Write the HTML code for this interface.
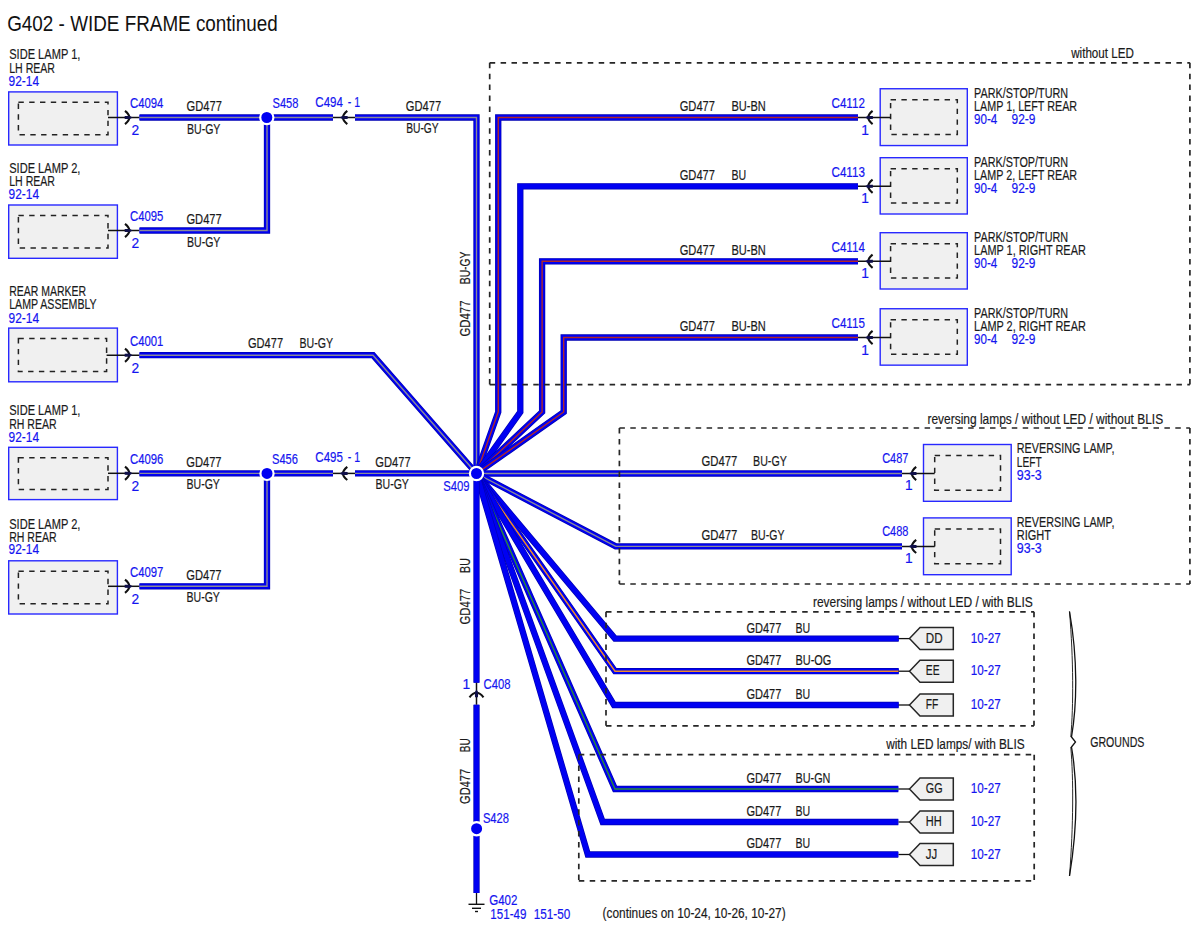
<!DOCTYPE html>
<html><head><meta charset="utf-8"><style>
html,body{margin:0;padding:0;background:#fff;}
svg{display:block;}
text{font-family:"Liberation Sans",sans-serif;}
</style></head><body>
<svg width="1200" height="927" viewBox="0 0 1200 927">
<rect width="1200" height="927" fill="#ffffff"/>
<text x="7.2" y="31.0" font-size="22" fill="#111" stroke="#111" stroke-width="0" textLength="270.6" lengthAdjust="spacingAndGlyphs">G402 - WIDE FRAME continued</text>
<rect x="8.7" y="91.9" width="108.7" height="53.1" fill="#f0f0f0" stroke="#2828ff" stroke-width="1.4"/>
<rect x="18.4" y="102.30000000000001" width="89.6" height="32.5" fill="none" stroke="#222" stroke-width="1.5" stroke-dasharray="5.4 5.4"/>
<text x="9.2" y="59.4" font-size="13.8" fill="#1a1a1a" stroke="#1a1a1a" stroke-width="0.18" textLength="71.2" lengthAdjust="spacingAndGlyphs">SIDE LAMP 1,</text>
<text x="9.2" y="72.5" font-size="13.8" fill="#1a1a1a" stroke="#1a1a1a" stroke-width="0.18" textLength="45.8" lengthAdjust="spacingAndGlyphs">LH REAR</text>
<text x="8.5" y="85.6" font-size="13.8" fill="#1414f0" stroke="#1414f0" stroke-width="0.18" textLength="30.6" lengthAdjust="spacingAndGlyphs">92-14</text>
<path d="M108.0,117.5 H139.5" stroke="#111" stroke-width="1.5" fill="none"/>
<path d="M125.0,110.9 Q133.6,117.5 125.0,124.1" stroke="#111" stroke-width="2.1" fill="none"/>
<path d="M124.7,116.0 L129.9,115.9 L132.7,117.5 L129.9,119.1 L124.7,119.0 Z" fill="#10104a"/>
<text x="130.0" y="107.8" font-size="13.8" fill="#1414f0" stroke="#1414f0" stroke-width="0.18" textLength="33.4" lengthAdjust="spacingAndGlyphs">C4094</text>
<text x="131.5" y="135.0" font-size="13.8" fill="#1414f0" stroke="#1414f0" stroke-width="0.18">2</text>
<rect x="8.7" y="205.0" width="108.7" height="53.3" fill="#f0f0f0" stroke="#2828ff" stroke-width="1.4"/>
<rect x="18.4" y="215.4" width="89.6" height="32.7" fill="none" stroke="#222" stroke-width="1.5" stroke-dasharray="5.4 5.4"/>
<text x="9.2" y="172.9" font-size="13.8" fill="#1a1a1a" stroke="#1a1a1a" stroke-width="0.18" textLength="71.2" lengthAdjust="spacingAndGlyphs">SIDE LAMP 2,</text>
<text x="9.2" y="185.8" font-size="13.8" fill="#1a1a1a" stroke="#1a1a1a" stroke-width="0.18" textLength="45.8" lengthAdjust="spacingAndGlyphs">LH REAR</text>
<text x="8.5" y="199.1" font-size="13.8" fill="#1414f0" stroke="#1414f0" stroke-width="0.18" textLength="30.6" lengthAdjust="spacingAndGlyphs">92-14</text>
<path d="M108.0,230.5 H139.5" stroke="#111" stroke-width="1.5" fill="none"/>
<path d="M125.0,223.9 Q133.6,230.5 125.0,237.1" stroke="#111" stroke-width="2.1" fill="none"/>
<path d="M124.7,229.0 L129.9,228.9 L132.7,230.5 L129.9,232.1 L124.7,232.0 Z" fill="#10104a"/>
<text x="130.0" y="220.8" font-size="13.8" fill="#1414f0" stroke="#1414f0" stroke-width="0.18" textLength="33.4" lengthAdjust="spacingAndGlyphs">C4095</text>
<text x="131.5" y="248.0" font-size="13.8" fill="#1414f0" stroke="#1414f0" stroke-width="0.18">2</text>
<rect x="8.7" y="328.1" width="108.7" height="53.7" fill="#f0f0f0" stroke="#2828ff" stroke-width="1.4"/>
<rect x="18.4" y="338.5" width="88.2" height="33.1" fill="none" stroke="#222" stroke-width="1.5" stroke-dasharray="5.4 5.4"/>
<text x="9.2" y="296.2" font-size="13.8" fill="#1a1a1a" stroke="#1a1a1a" stroke-width="0.18" textLength="76.9" lengthAdjust="spacingAndGlyphs">REAR MARKER</text>
<text x="9.2" y="309.4" font-size="13.8" fill="#1a1a1a" stroke="#1a1a1a" stroke-width="0.18" textLength="87.5" lengthAdjust="spacingAndGlyphs">LAMP ASSEMBLY</text>
<text x="8.5" y="322.5" font-size="13.8" fill="#1414f0" stroke="#1414f0" stroke-width="0.18" textLength="30.6" lengthAdjust="spacingAndGlyphs">92-14</text>
<path d="M106.6,355.2 H139.5" stroke="#111" stroke-width="1.5" fill="none"/>
<path d="M125.0,348.6 Q133.6,355.2 125.0,361.8" stroke="#111" stroke-width="2.1" fill="none"/>
<path d="M124.7,353.7 L129.9,353.6 L132.7,355.2 L129.9,356.8 L124.7,356.7 Z" fill="#10104a"/>
<text x="130.0" y="345.5" font-size="13.8" fill="#1414f0" stroke="#1414f0" stroke-width="0.18" textLength="33.4" lengthAdjust="spacingAndGlyphs">C4001</text>
<text x="131.5" y="372.7" font-size="13.8" fill="#1414f0" stroke="#1414f0" stroke-width="0.18">2</text>
<rect x="8.7" y="447.3" width="108.7" height="52.3" fill="#f0f0f0" stroke="#2828ff" stroke-width="1.4"/>
<rect x="18.4" y="457.7" width="89.6" height="31.7" fill="none" stroke="#222" stroke-width="1.5" stroke-dasharray="5.4 5.4"/>
<text x="9.2" y="415.4" font-size="13.8" fill="#1a1a1a" stroke="#1a1a1a" stroke-width="0.18" textLength="71.2" lengthAdjust="spacingAndGlyphs">SIDE LAMP 1,</text>
<text x="9.2" y="428.5" font-size="13.8" fill="#1a1a1a" stroke="#1a1a1a" stroke-width="0.18" textLength="47.4" lengthAdjust="spacingAndGlyphs">RH REAR</text>
<text x="8.5" y="441.5" font-size="13.8" fill="#1414f0" stroke="#1414f0" stroke-width="0.18" textLength="30.6" lengthAdjust="spacingAndGlyphs">92-14</text>
<path d="M108.0,473.3 H139.5" stroke="#111" stroke-width="1.5" fill="none"/>
<path d="M125.0,466.7 Q133.6,473.3 125.0,479.9" stroke="#111" stroke-width="2.1" fill="none"/>
<path d="M124.7,471.8 L129.9,471.7 L132.7,473.3 L129.9,474.9 L124.7,474.8 Z" fill="#10104a"/>
<text x="130.0" y="463.6" font-size="13.8" fill="#1414f0" stroke="#1414f0" stroke-width="0.18" textLength="33.4" lengthAdjust="spacingAndGlyphs">C4096</text>
<text x="131.5" y="490.8" font-size="13.8" fill="#1414f0" stroke="#1414f0" stroke-width="0.18">2</text>
<rect x="8.7" y="560.8" width="108.7" height="53.2" fill="#f0f0f0" stroke="#2828ff" stroke-width="1.4"/>
<rect x="18.4" y="571.1999999999999" width="89.6" height="32.6" fill="none" stroke="#222" stroke-width="1.5" stroke-dasharray="5.4 5.4"/>
<text x="9.2" y="528.5" font-size="13.8" fill="#1a1a1a" stroke="#1a1a1a" stroke-width="0.18" textLength="71.2" lengthAdjust="spacingAndGlyphs">SIDE LAMP 2,</text>
<text x="9.2" y="541.5" font-size="13.8" fill="#1a1a1a" stroke="#1a1a1a" stroke-width="0.18" textLength="47.4" lengthAdjust="spacingAndGlyphs">RH REAR</text>
<text x="8.5" y="554.4" font-size="13.8" fill="#1414f0" stroke="#1414f0" stroke-width="0.18" textLength="30.6" lengthAdjust="spacingAndGlyphs">92-14</text>
<path d="M108.0,586.3 H139.5" stroke="#111" stroke-width="1.5" fill="none"/>
<path d="M125.0,579.7 Q133.6,586.3 125.0,592.9" stroke="#111" stroke-width="2.1" fill="none"/>
<path d="M124.7,584.8 L129.9,584.7 L132.7,586.3 L129.9,587.9 L124.7,587.8 Z" fill="#10104a"/>
<text x="130.0" y="576.6" font-size="13.8" fill="#1414f0" stroke="#1414f0" stroke-width="0.18" textLength="33.4" lengthAdjust="spacingAndGlyphs">C4097</text>
<text x="131.5" y="603.8" font-size="13.8" fill="#1414f0" stroke="#1414f0" stroke-width="0.18">2</text>
<rect x="880.2" y="88.75" width="87.1" height="56.8" fill="#f0f0f0" stroke="#2828ff" stroke-width="1.4"/>
<rect x="890.6" y="99.75" width="66.7" height="34.8" fill="none" stroke="#222" stroke-width="1.5" stroke-dasharray="5.4 5.4"/>
<text x="974.1" y="97.8" font-size="13.8" fill="#1a1a1a" stroke="#1a1a1a" stroke-width="0.18" textLength="94.0" lengthAdjust="spacingAndGlyphs">PARK/STOP/TURN</text>
<text x="974.1" y="110.8" font-size="13.8" fill="#1a1a1a" stroke="#1a1a1a" stroke-width="0.18" textLength="103.0" lengthAdjust="spacingAndGlyphs">LAMP 1, LEFT REAR</text>
<text x="974.1" y="123.8" font-size="13.8" fill="#1414f0" stroke="#1414f0" stroke-width="0.18" textLength="23.2" lengthAdjust="spacingAndGlyphs">90-4</text>
<text x="1011.5" y="123.8" font-size="13.8" fill="#1414f0" stroke="#1414f0" stroke-width="0.18" textLength="23.9" lengthAdjust="spacingAndGlyphs">92-9</text>
<path d="M858.0,117.5 H890.6" stroke="#111" stroke-width="1.5" fill="none"/>
<path d="M872.6,110.9 Q864.0,117.5 872.6,124.1" stroke="#111" stroke-width="2.1" fill="none"/>
<path d="M872.9,116.0 L867.7,115.9 L864.9,117.5 L867.7,119.1 L872.9,119.0 Z" fill="#10104a"/>
<text x="831.5" y="107.9" font-size="13.8" fill="#1414f0" stroke="#1414f0" stroke-width="0.18" textLength="33.4" lengthAdjust="spacingAndGlyphs">C4112</text>
<text x="861.2" y="134.5" font-size="13.8" fill="#1414f0" stroke="#1414f0" stroke-width="0.18">1</text>
<rect x="880.2" y="157.7" width="87.1" height="56.3" fill="#f0f0f0" stroke="#2828ff" stroke-width="1.4"/>
<rect x="890.6" y="168.7" width="66.7" height="34.3" fill="none" stroke="#222" stroke-width="1.5" stroke-dasharray="5.4 5.4"/>
<text x="974.1" y="166.7" font-size="13.8" fill="#1a1a1a" stroke="#1a1a1a" stroke-width="0.18" textLength="94.0" lengthAdjust="spacingAndGlyphs">PARK/STOP/TURN</text>
<text x="974.1" y="179.7" font-size="13.8" fill="#1a1a1a" stroke="#1a1a1a" stroke-width="0.18" textLength="103.0" lengthAdjust="spacingAndGlyphs">LAMP 2, LEFT REAR</text>
<text x="974.1" y="192.7" font-size="13.8" fill="#1414f0" stroke="#1414f0" stroke-width="0.18" textLength="23.2" lengthAdjust="spacingAndGlyphs">90-4</text>
<text x="1011.5" y="192.7" font-size="13.8" fill="#1414f0" stroke="#1414f0" stroke-width="0.18" textLength="23.9" lengthAdjust="spacingAndGlyphs">92-9</text>
<path d="M858.0,186.3 H890.6" stroke="#111" stroke-width="1.5" fill="none"/>
<path d="M872.6,179.7 Q864.0,186.3 872.6,192.9" stroke="#111" stroke-width="2.1" fill="none"/>
<path d="M872.9,184.8 L867.7,184.7 L864.9,186.3 L867.7,187.9 L872.9,187.8 Z" fill="#10104a"/>
<text x="831.5" y="176.7" font-size="13.8" fill="#1414f0" stroke="#1414f0" stroke-width="0.18" textLength="33.4" lengthAdjust="spacingAndGlyphs">C4113</text>
<text x="861.2" y="203.3" font-size="13.8" fill="#1414f0" stroke="#1414f0" stroke-width="0.18">1</text>
<rect x="880.2" y="232.7" width="87.1" height="56.3" fill="#f0f0f0" stroke="#2828ff" stroke-width="1.4"/>
<rect x="890.6" y="243.7" width="66.7" height="34.3" fill="none" stroke="#222" stroke-width="1.5" stroke-dasharray="5.4 5.4"/>
<text x="974.1" y="241.7" font-size="13.8" fill="#1a1a1a" stroke="#1a1a1a" stroke-width="0.18" textLength="94.0" lengthAdjust="spacingAndGlyphs">PARK/STOP/TURN</text>
<text x="974.1" y="254.7" font-size="13.8" fill="#1a1a1a" stroke="#1a1a1a" stroke-width="0.18" textLength="111.7" lengthAdjust="spacingAndGlyphs">LAMP 1, RIGHT REAR</text>
<text x="974.1" y="267.7" font-size="13.8" fill="#1414f0" stroke="#1414f0" stroke-width="0.18" textLength="23.2" lengthAdjust="spacingAndGlyphs">90-4</text>
<text x="1011.5" y="267.7" font-size="13.8" fill="#1414f0" stroke="#1414f0" stroke-width="0.18" textLength="23.9" lengthAdjust="spacingAndGlyphs">92-9</text>
<path d="M858.0,261.3 H890.6" stroke="#111" stroke-width="1.5" fill="none"/>
<path d="M872.6,254.7 Q864.0,261.3 872.6,267.9" stroke="#111" stroke-width="2.1" fill="none"/>
<path d="M872.9,259.8 L867.7,259.7 L864.9,261.3 L867.7,262.9 L872.9,262.8 Z" fill="#10104a"/>
<text x="831.5" y="251.7" font-size="13.8" fill="#1414f0" stroke="#1414f0" stroke-width="0.18" textLength="33.4" lengthAdjust="spacingAndGlyphs">C4114</text>
<text x="861.2" y="278.3" font-size="13.8" fill="#1414f0" stroke="#1414f0" stroke-width="0.18">1</text>
<rect x="880.2" y="308.75" width="87.1" height="56.4" fill="#f0f0f0" stroke="#2828ff" stroke-width="1.4"/>
<rect x="890.6" y="319.75" width="66.7" height="34.4" fill="none" stroke="#222" stroke-width="1.5" stroke-dasharray="5.4 5.4"/>
<text x="974.1" y="317.8" font-size="13.8" fill="#1a1a1a" stroke="#1a1a1a" stroke-width="0.18" textLength="94.0" lengthAdjust="spacingAndGlyphs">PARK/STOP/TURN</text>
<text x="974.1" y="330.8" font-size="13.8" fill="#1a1a1a" stroke="#1a1a1a" stroke-width="0.18" textLength="111.7" lengthAdjust="spacingAndGlyphs">LAMP 2, RIGHT REAR</text>
<text x="974.1" y="343.8" font-size="13.8" fill="#1414f0" stroke="#1414f0" stroke-width="0.18" textLength="23.2" lengthAdjust="spacingAndGlyphs">90-4</text>
<text x="1011.5" y="343.8" font-size="13.8" fill="#1414f0" stroke="#1414f0" stroke-width="0.18" textLength="23.9" lengthAdjust="spacingAndGlyphs">92-9</text>
<path d="M858.0,337.5 H890.6" stroke="#111" stroke-width="1.5" fill="none"/>
<path d="M872.6,330.9 Q864.0,337.5 872.6,344.1" stroke="#111" stroke-width="2.1" fill="none"/>
<path d="M872.9,336.0 L867.7,335.9 L864.9,337.5 L867.7,339.1 L872.9,339.0 Z" fill="#10104a"/>
<text x="831.5" y="327.9" font-size="13.8" fill="#1414f0" stroke="#1414f0" stroke-width="0.18" textLength="33.4" lengthAdjust="spacingAndGlyphs">C4115</text>
<text x="861.2" y="354.5" font-size="13.8" fill="#1414f0" stroke="#1414f0" stroke-width="0.18">1</text>
<rect x="923.5" y="444.5" width="87.7" height="56.8" fill="#f0f0f0" stroke="#2828ff" stroke-width="1.4"/>
<rect x="934.7" y="455.5" width="65.8" height="34.8" fill="none" stroke="#222" stroke-width="1.5" stroke-dasharray="5.4 5.4"/>
<text x="1016.8" y="453.3" font-size="13.8" fill="#1a1a1a" stroke="#1a1a1a" stroke-width="0.18" textLength="97.6" lengthAdjust="spacingAndGlyphs">REVERSING LAMP,</text>
<text x="1016.8" y="466.7" font-size="13.8" fill="#1a1a1a" stroke="#1a1a1a" stroke-width="0.18" textLength="24.9" lengthAdjust="spacingAndGlyphs">LEFT</text>
<text x="1016.8" y="479.5" font-size="13.8" fill="#1414f0" stroke="#1414f0" stroke-width="0.18" textLength="24.9" lengthAdjust="spacingAndGlyphs">93-3</text>
<path d="M902.0,473.5 H934.7" stroke="#111" stroke-width="1.5" fill="none"/>
<path d="M916.2,466.9 Q907.6,473.5 916.2,480.1" stroke="#111" stroke-width="2.1" fill="none"/>
<path d="M916.5,472.0 L911.3,471.9 L908.5,473.5 L911.3,475.1 L916.5,475.0 Z" fill="#10104a"/>
<text x="882.2" y="463.2" font-size="13.8" fill="#1414f0" stroke="#1414f0" stroke-width="0.18" textLength="26.2" lengthAdjust="spacingAndGlyphs">C487</text>
<text x="905.1" y="490.2" font-size="13.8" fill="#1414f0" stroke="#1414f0" stroke-width="0.18">1</text>
<rect x="923.5" y="517.9" width="87.7" height="56.8" fill="#f0f0f0" stroke="#2828ff" stroke-width="1.4"/>
<rect x="934.7" y="528.9" width="65.8" height="34.8" fill="none" stroke="#222" stroke-width="1.5" stroke-dasharray="5.4 5.4"/>
<text x="1016.8" y="526.7" font-size="13.8" fill="#1a1a1a" stroke="#1a1a1a" stroke-width="0.18" textLength="97.6" lengthAdjust="spacingAndGlyphs">REVERSING LAMP,</text>
<text x="1016.8" y="540.1" font-size="13.8" fill="#1a1a1a" stroke="#1a1a1a" stroke-width="0.18" textLength="34.2" lengthAdjust="spacingAndGlyphs">RIGHT</text>
<text x="1016.8" y="552.9" font-size="13.8" fill="#1414f0" stroke="#1414f0" stroke-width="0.18" textLength="24.9" lengthAdjust="spacingAndGlyphs">93-3</text>
<path d="M902.0,546.4 H934.7" stroke="#111" stroke-width="1.5" fill="none"/>
<path d="M916.2,539.8 Q907.6,546.4 916.2,553.0" stroke="#111" stroke-width="2.1" fill="none"/>
<path d="M916.5,544.9 L911.3,544.8 L908.5,546.4 L911.3,548.0 L916.5,547.9 Z" fill="#10104a"/>
<text x="882.2" y="536.1" font-size="13.8" fill="#1414f0" stroke="#1414f0" stroke-width="0.18" textLength="26.2" lengthAdjust="spacingAndGlyphs">C488</text>
<text x="905.1" y="563.1" font-size="13.8" fill="#1414f0" stroke="#1414f0" stroke-width="0.18">1</text>
<path d="M139.5,117.5 H333" stroke="#0000b4" stroke-width="6.3" fill="none" stroke-linejoin="miter" stroke-linecap="butt"/>
<path d="M139.5,117.5 H333" stroke="#0000f2" stroke-width="4.9" fill="none" stroke-linejoin="miter" stroke-linecap="butt"/>
<path d="M139.5,117.5 H333" stroke="#8a8a96" stroke-width="1.4" fill="none" stroke-linejoin="miter" stroke-linecap="butt"/>
<path d="M355,117.5 H476.5 V473.5" stroke="#0000b4" stroke-width="6.3" fill="none" stroke-linejoin="miter" stroke-linecap="butt"/>
<path d="M355,117.5 H476.5 V473.5" stroke="#0000f2" stroke-width="4.9" fill="none" stroke-linejoin="miter" stroke-linecap="butt"/>
<path d="M355,117.5 H476.5 V473.5" stroke="#8a8a96" stroke-width="1.4" fill="none" stroke-linejoin="miter" stroke-linecap="butt"/>
<path d="M139.5,230.5 H267 V117.5" stroke="#0000b4" stroke-width="6.3" fill="none" stroke-linejoin="miter" stroke-linecap="butt"/>
<path d="M139.5,230.5 H267 V117.5" stroke="#0000f2" stroke-width="4.9" fill="none" stroke-linejoin="miter" stroke-linecap="butt"/>
<path d="M139.5,230.5 H267 V117.5" stroke="#8a8a96" stroke-width="1.4" fill="none" stroke-linejoin="miter" stroke-linecap="butt"/>
<path d="M139.5,355.2 H373 L476.5,473.5" stroke="#0000b4" stroke-width="6.3" fill="none" stroke-linejoin="miter" stroke-linecap="butt"/>
<path d="M139.5,355.2 H373 L476.5,473.5" stroke="#0000f2" stroke-width="4.9" fill="none" stroke-linejoin="miter" stroke-linecap="butt"/>
<path d="M139.5,355.2 H373 L476.5,473.5" stroke="#8a8a96" stroke-width="1.4" fill="none" stroke-linejoin="miter" stroke-linecap="butt"/>
<path d="M139.5,473.4 H333" stroke="#0000b4" stroke-width="6.3" fill="none" stroke-linejoin="miter" stroke-linecap="butt"/>
<path d="M139.5,473.4 H333" stroke="#0000f2" stroke-width="4.9" fill="none" stroke-linejoin="miter" stroke-linecap="butt"/>
<path d="M139.5,473.4 H333" stroke="#8a8a96" stroke-width="1.4" fill="none" stroke-linejoin="miter" stroke-linecap="butt"/>
<path d="M355,473.4 H476.5" stroke="#0000b4" stroke-width="6.3" fill="none" stroke-linejoin="miter" stroke-linecap="butt"/>
<path d="M355,473.4 H476.5" stroke="#0000f2" stroke-width="4.9" fill="none" stroke-linejoin="miter" stroke-linecap="butt"/>
<path d="M355,473.4 H476.5" stroke="#8a8a96" stroke-width="1.4" fill="none" stroke-linejoin="miter" stroke-linecap="butt"/>
<path d="M139.5,586.3 H267 V473.4" stroke="#0000b4" stroke-width="6.3" fill="none" stroke-linejoin="miter" stroke-linecap="butt"/>
<path d="M139.5,586.3 H267 V473.4" stroke="#0000f2" stroke-width="4.9" fill="none" stroke-linejoin="miter" stroke-linecap="butt"/>
<path d="M139.5,586.3 H267 V473.4" stroke="#8a8a96" stroke-width="1.4" fill="none" stroke-linejoin="miter" stroke-linecap="butt"/>
<path d="M858,117.5 H498.25 V412 L476.5,473.5" stroke="#0000b4" stroke-width="6.3" fill="none" stroke-linejoin="miter" stroke-linecap="butt"/>
<path d="M858,117.5 H498.25 V412 L476.5,473.5" stroke="#0000f2" stroke-width="4.9" fill="none" stroke-linejoin="miter" stroke-linecap="butt"/>
<path d="M858,117.5 H498.25 V412 L476.5,473.5" stroke="#b02828" stroke-width="1.4" fill="none" stroke-linejoin="miter" stroke-linecap="butt"/>
<path d="M858,186.3 H520.3 V412 L476.5,473.5" stroke="#0000b4" stroke-width="6.3" fill="none" stroke-linejoin="miter" stroke-linecap="butt"/>
<path d="M858,186.3 H520.3 V412 L476.5,473.5" stroke="#0000f2" stroke-width="4.9" fill="none" stroke-linejoin="miter" stroke-linecap="butt"/>
<path d="M858,261.3 H542.1 V412 L476.5,473.5" stroke="#0000b4" stroke-width="6.3" fill="none" stroke-linejoin="miter" stroke-linecap="butt"/>
<path d="M858,261.3 H542.1 V412 L476.5,473.5" stroke="#0000f2" stroke-width="4.9" fill="none" stroke-linejoin="miter" stroke-linecap="butt"/>
<path d="M858,261.3 H542.1 V412 L476.5,473.5" stroke="#b02828" stroke-width="1.4" fill="none" stroke-linejoin="miter" stroke-linecap="butt"/>
<path d="M858,337.5 H563.7 V412 L476.5,473.5" stroke="#0000b4" stroke-width="6.3" fill="none" stroke-linejoin="miter" stroke-linecap="butt"/>
<path d="M858,337.5 H563.7 V412 L476.5,473.5" stroke="#0000f2" stroke-width="4.9" fill="none" stroke-linejoin="miter" stroke-linecap="butt"/>
<path d="M858,337.5 H563.7 V412 L476.5,473.5" stroke="#b02828" stroke-width="1.4" fill="none" stroke-linejoin="miter" stroke-linecap="butt"/>
<path d="M476.5,473.5 H902" stroke="#0000b4" stroke-width="6.3" fill="none" stroke-linejoin="miter" stroke-linecap="butt"/>
<path d="M476.5,473.5 H902" stroke="#0000f2" stroke-width="4.9" fill="none" stroke-linejoin="miter" stroke-linecap="butt"/>
<path d="M476.5,473.5 H902" stroke="#8a8a96" stroke-width="1.4" fill="none" stroke-linejoin="miter" stroke-linecap="butt"/>
<path d="M476.5,473.5 L615.7,546.4 H902" stroke="#0000b4" stroke-width="6.3" fill="none" stroke-linejoin="miter" stroke-linecap="butt"/>
<path d="M476.5,473.5 L615.7,546.4 H902" stroke="#0000f2" stroke-width="4.9" fill="none" stroke-linejoin="miter" stroke-linecap="butt"/>
<path d="M476.5,473.5 L615.7,546.4 H902" stroke="#8a8a96" stroke-width="1.4" fill="none" stroke-linejoin="miter" stroke-linecap="butt"/>
<path d="M476.5,473.5 L615,638.6 H898.7" stroke="#0000b4" stroke-width="6.3" fill="none" stroke-linejoin="miter" stroke-linecap="butt"/>
<path d="M476.5,473.5 L615,638.6 H898.7" stroke="#0000f2" stroke-width="4.9" fill="none" stroke-linejoin="miter" stroke-linecap="butt"/>
<path d="M476.5,473.5 L615,671.2 H898.7" stroke="#0000b4" stroke-width="6.3" fill="none" stroke-linejoin="miter" stroke-linecap="butt"/>
<path d="M476.5,473.5 L615,671.2 H898.7" stroke="#0000f2" stroke-width="4.9" fill="none" stroke-linejoin="miter" stroke-linecap="butt"/>
<path d="M476.5,473.5 L615,671.2 H898.7" stroke="#f08c28" stroke-width="1.4" fill="none" stroke-linejoin="miter" stroke-linecap="butt"/>
<path d="M476.5,473.5 L614,705 H898.7" stroke="#0000b4" stroke-width="6.3" fill="none" stroke-linejoin="miter" stroke-linecap="butt"/>
<path d="M476.5,473.5 L614,705 H898.7" stroke="#0000f2" stroke-width="4.9" fill="none" stroke-linejoin="miter" stroke-linecap="butt"/>
<path d="M476.5,473.5 L615,789 H898.3" stroke="#0000b4" stroke-width="6.3" fill="none" stroke-linejoin="miter" stroke-linecap="butt"/>
<path d="M476.5,473.5 L615,789 H898.3" stroke="#0000f2" stroke-width="4.9" fill="none" stroke-linejoin="miter" stroke-linecap="butt"/>
<path d="M476.5,473.5 L615,789 H898.3" stroke="#2a8a3a" stroke-width="1.4" fill="none" stroke-linejoin="miter" stroke-linecap="butt"/>
<path d="M476.5,473.5 L602.7,822 H898.3" stroke="#0000b4" stroke-width="6.3" fill="none" stroke-linejoin="miter" stroke-linecap="butt"/>
<path d="M476.5,473.5 L602.7,822 H898.3" stroke="#0000f2" stroke-width="4.9" fill="none" stroke-linejoin="miter" stroke-linecap="butt"/>
<path d="M476.5,473.5 L587.8,854.5 H898.3" stroke="#0000b4" stroke-width="6.3" fill="none" stroke-linejoin="miter" stroke-linecap="butt"/>
<path d="M476.5,473.5 L587.8,854.5 H898.3" stroke="#0000f2" stroke-width="4.9" fill="none" stroke-linejoin="miter" stroke-linecap="butt"/>
<path d="M476.5,473.5 V682.7" stroke="#0000b4" stroke-width="6.3" fill="none" stroke-linejoin="miter" stroke-linecap="butt"/>
<path d="M476.5,473.5 V682.7" stroke="#0000f2" stroke-width="4.9" fill="none" stroke-linejoin="miter" stroke-linecap="butt"/>
<path d="M476.5,704.7 V893" stroke="#0000b4" stroke-width="6.3" fill="none" stroke-linejoin="miter" stroke-linecap="butt"/>
<path d="M476.5,704.7 V893" stroke="#0000f2" stroke-width="4.9" fill="none" stroke-linejoin="miter" stroke-linecap="butt"/>
<path d="M489.7,62.8 H1189.9" fill="none" stroke="#262626" stroke-width="1.7" stroke-dasharray="5.5 5.4"/>
<path d="M489.7,62.8 V384.7" fill="none" stroke="#262626" stroke-width="1.7" stroke-dasharray="5.5 5.4"/>
<path d="M489.7,384.7 H1189.9" fill="none" stroke="#262626" stroke-width="1.7" stroke-dasharray="5.5 5.4"/>
<path d="M1189.9,62.8 V384.7" fill="none" stroke="#262626" stroke-width="1.7" stroke-dasharray="5.5 5.4"/>
<path d="M619.4,428 H1189.9" fill="none" stroke="#262626" stroke-width="1.7" stroke-dasharray="5.5 5.4"/>
<path d="M619.4,428 V584" fill="none" stroke="#262626" stroke-width="1.7" stroke-dasharray="5.5 5.4"/>
<path d="M619.4,584 H1189.9" fill="none" stroke="#262626" stroke-width="1.7" stroke-dasharray="5.5 5.4"/>
<path d="M1189.9,428 V584" fill="none" stroke="#262626" stroke-width="1.7" stroke-dasharray="5.5 5.4"/>
<path d="M606,611.8 H1034" fill="none" stroke="#262626" stroke-width="1.7" stroke-dasharray="5.5 5.4"/>
<path d="M606,611.8 V725.8" fill="none" stroke="#262626" stroke-width="1.7" stroke-dasharray="5.5 5.4"/>
<path d="M606,725.8 H1034" fill="none" stroke="#262626" stroke-width="1.7" stroke-dasharray="5.5 5.4"/>
<path d="M1034,611.8 V725.8" fill="none" stroke="#262626" stroke-width="1.7" stroke-dasharray="5.5 5.4"/>
<path d="M578.8,754.7 H1034.2" fill="none" stroke="#262626" stroke-width="1.7" stroke-dasharray="5.5 5.4"/>
<path d="M578.8,754.7 V880.8" fill="none" stroke="#262626" stroke-width="1.7" stroke-dasharray="5.5 5.4"/>
<path d="M578.8,880.8 H1034.2" fill="none" stroke="#262626" stroke-width="1.7" stroke-dasharray="5.5 5.4"/>
<path d="M1034.2,754.7 V880.8" fill="none" stroke="#262626" stroke-width="1.7" stroke-dasharray="5.5 5.4"/>
<text x="1071.2" y="58.0" font-size="13.8" fill="#1a1a1a" stroke="#1a1a1a" stroke-width="0.18" textLength="62.7" lengthAdjust="spacingAndGlyphs">without LED</text>
<text x="927.5" y="423.5" font-size="13.8" fill="#1a1a1a" stroke="#1a1a1a" stroke-width="0.18" textLength="235.6" lengthAdjust="spacingAndGlyphs">reversing lamps / without LED / without BLIS</text>
<text x="812.9" y="606.5" font-size="13.8" fill="#1a1a1a" stroke="#1a1a1a" stroke-width="0.18" textLength="219.9" lengthAdjust="spacingAndGlyphs">reversing lamps / without LED / with BLIS</text>
<text x="886.2" y="749.2" font-size="13.8" fill="#1a1a1a" stroke="#1a1a1a" stroke-width="0.18" textLength="138.4" lengthAdjust="spacingAndGlyphs">with LED lamps/ with BLIS</text>
<path d="M333,117.5 H355" stroke="#111" stroke-width="1.5" fill="none"/>
<path d="M347.3,110.9 Q338.7,117.5 347.3,124.1" stroke="#111" stroke-width="2.1" fill="none"/>
<path d="M347.6,116.0 L342.4,115.9 L339.6,117.5 L342.4,119.1 L347.6,119.0 Z" fill="#10104a"/>
<path d="M333,473.4 H355" stroke="#111" stroke-width="1.5" fill="none"/>
<path d="M347.3,466.8 Q338.7,473.4 347.3,480.0" stroke="#111" stroke-width="2.1" fill="none"/>
<path d="M347.6,471.9 L342.4,471.8 L339.6,473.4 L342.4,475.0 L347.6,474.9 Z" fill="#10104a"/>
<path d="M476.5,682.7 V704.7" stroke="#111" stroke-width="1.5" fill="none"/>
<path d="M469.5,697.3 Q476.5,688.1 483.5,697.3" stroke="#111" stroke-width="2.1" fill="none"/>
<path d="M475.0,697.3 L474.9,692.1 L476.5,689.5 L478.1,692.1 L478.0,697.3 Z" fill="#10104a"/>
<circle cx="266.8" cy="117.5" r="6.6" fill="#0000f2" stroke="#ffffff" stroke-width="2.2"/>
<circle cx="267" cy="473.4" r="6.6" fill="#0000f2" stroke="#ffffff" stroke-width="2.2"/>
<circle cx="476.5" cy="473.5" r="6.6" fill="#0000f2" stroke="#ffffff" stroke-width="2.2"/>
<circle cx="476.6" cy="828.7" r="6.6" fill="#0000f2" stroke="#ffffff" stroke-width="2.2"/>
<path d="M476.5,893 V904" stroke="#111" stroke-width="1.3" fill="none"/>
<path d="M468.5,904.3 H484.5" stroke="#111" stroke-width="1.4" fill="none"/>
<path d="M472,908.3 H481" stroke="#111" stroke-width="1.4" fill="none"/>
<path d="M475,911.5 H478" stroke="#111" stroke-width="1.4" fill="none"/>
<text x="186.5" y="111.0" font-size="13.8" fill="#1a1a1a" stroke="#1a1a1a" stroke-width="0.18" textLength="35.4" lengthAdjust="spacingAndGlyphs">GD477</text>
<text x="187.0" y="133.5" font-size="13.8" fill="#1a1a1a" stroke="#1a1a1a" stroke-width="0.18" textLength="33.4" lengthAdjust="spacingAndGlyphs">BU-GY</text>
<text x="186.4" y="224.0" font-size="13.8" fill="#1a1a1a" stroke="#1a1a1a" stroke-width="0.18" textLength="35.4" lengthAdjust="spacingAndGlyphs">GD477</text>
<text x="187.0" y="246.5" font-size="13.8" fill="#1a1a1a" stroke="#1a1a1a" stroke-width="0.18" textLength="33.4" lengthAdjust="spacingAndGlyphs">BU-GY</text>
<text x="186.2" y="466.9" font-size="13.8" fill="#1a1a1a" stroke="#1a1a1a" stroke-width="0.18" textLength="35.4" lengthAdjust="spacingAndGlyphs">GD477</text>
<text x="186.5" y="489.4" font-size="13.8" fill="#1a1a1a" stroke="#1a1a1a" stroke-width="0.18" textLength="33.4" lengthAdjust="spacingAndGlyphs">BU-GY</text>
<text x="186.2" y="579.8" font-size="13.8" fill="#1a1a1a" stroke="#1a1a1a" stroke-width="0.18" textLength="35.4" lengthAdjust="spacingAndGlyphs">GD477</text>
<text x="186.5" y="602.3" font-size="13.8" fill="#1a1a1a" stroke="#1a1a1a" stroke-width="0.18" textLength="33.4" lengthAdjust="spacingAndGlyphs">BU-GY</text>
<text x="247.9" y="348.0" font-size="13.8" fill="#1a1a1a" stroke="#1a1a1a" stroke-width="0.18" textLength="35.2" lengthAdjust="spacingAndGlyphs">GD477</text>
<text x="299.5" y="348.0" font-size="13.8" fill="#1a1a1a" stroke="#1a1a1a" stroke-width="0.18" textLength="33.6" lengthAdjust="spacingAndGlyphs">BU-GY</text>
<text x="272.5" y="108.3" font-size="13.8" fill="#1414f0" stroke="#1414f0" stroke-width="0.18" textLength="25.9" lengthAdjust="spacingAndGlyphs">S458</text>
<text x="315.3" y="106.7" font-size="13.8" fill="#1414f0" stroke="#1414f0" stroke-width="0.18" textLength="27.6" lengthAdjust="spacingAndGlyphs">C494</text>
<text x="347.8" y="106.7" font-size="13.8" fill="#1414f0" stroke="#1414f0" stroke-width="0.18" textLength="12.3" lengthAdjust="spacingAndGlyphs">- 1</text>
<text x="405.8" y="110.8" font-size="13.8" fill="#1a1a1a" stroke="#1a1a1a" stroke-width="0.18" textLength="35.4" lengthAdjust="spacingAndGlyphs">GD477</text>
<text x="406.2" y="133.0" font-size="13.8" fill="#1a1a1a" stroke="#1a1a1a" stroke-width="0.18" textLength="32.5" lengthAdjust="spacingAndGlyphs">BU-GY</text>
<text x="272.0" y="464.2" font-size="13.8" fill="#1414f0" stroke="#1414f0" stroke-width="0.18" textLength="25.9" lengthAdjust="spacingAndGlyphs">S456</text>
<text x="315.3" y="462.0" font-size="13.8" fill="#1414f0" stroke="#1414f0" stroke-width="0.18" textLength="27.6" lengthAdjust="spacingAndGlyphs">C495</text>
<text x="347.8" y="462.0" font-size="13.8" fill="#1414f0" stroke="#1414f0" stroke-width="0.18" textLength="12.3" lengthAdjust="spacingAndGlyphs">- 1</text>
<text x="375.3" y="466.7" font-size="13.8" fill="#1a1a1a" stroke="#1a1a1a" stroke-width="0.18" textLength="35.4" lengthAdjust="spacingAndGlyphs">GD477</text>
<text x="375.5" y="489.2" font-size="13.8" fill="#1a1a1a" stroke="#1a1a1a" stroke-width="0.18" textLength="33.4" lengthAdjust="spacingAndGlyphs">BU-GY</text>
<text x="443.2" y="491.4" font-size="13.8" fill="#1414f0" stroke="#1414f0" stroke-width="0.18" textLength="26.4" lengthAdjust="spacingAndGlyphs">S409</text>
<text transform="translate(470.4,336.5) rotate(-90)" x="0" y="0" font-size="13.8" fill="#1a1a1a" stroke="#1a1a1a" stroke-width="0.18" textLength="36.0" lengthAdjust="spacingAndGlyphs">GD477</text>
<text transform="translate(470.4,284.2) rotate(-90)" x="0" y="0" font-size="13.8" fill="#1a1a1a" stroke="#1a1a1a" stroke-width="0.18" textLength="32.6" lengthAdjust="spacingAndGlyphs">BU-GY</text>
<text transform="translate(470.2,624.5) rotate(-90)" x="0" y="0" font-size="13.8" fill="#1a1a1a" stroke="#1a1a1a" stroke-width="0.18" textLength="35.8" lengthAdjust="spacingAndGlyphs">GD477</text>
<text transform="translate(470.2,572.9) rotate(-90)" x="0" y="0" font-size="13.8" fill="#1a1a1a" stroke="#1a1a1a" stroke-width="0.18" textLength="14.7" lengthAdjust="spacingAndGlyphs">BU</text>
<text transform="translate(470.4,804.0) rotate(-90)" x="0" y="0" font-size="13.8" fill="#1a1a1a" stroke="#1a1a1a" stroke-width="0.18" textLength="35.2" lengthAdjust="spacingAndGlyphs">GD477</text>
<text transform="translate(470.4,752.2) rotate(-90)" x="0" y="0" font-size="13.8" fill="#1a1a1a" stroke="#1a1a1a" stroke-width="0.18" textLength="13.8" lengthAdjust="spacingAndGlyphs">BU</text>
<text x="483.5" y="688.7" font-size="13.8" fill="#1414f0" stroke="#1414f0" stroke-width="0.18" textLength="26.9" lengthAdjust="spacingAndGlyphs">C408</text>
<text x="462.5" y="688.7" font-size="13.8" fill="#1414f0" stroke="#1414f0" stroke-width="0.18">1</text>
<text x="482.9" y="822.9" font-size="13.8" fill="#1414f0" stroke="#1414f0" stroke-width="0.18" textLength="26.1" lengthAdjust="spacingAndGlyphs">S428</text>
<text x="489.2" y="905.2" font-size="13.8" fill="#1414f0" stroke="#1414f0" stroke-width="0.18" textLength="28.3" lengthAdjust="spacingAndGlyphs">G402</text>
<text x="490.3" y="918.5" font-size="13.8" fill="#1414f0" stroke="#1414f0" stroke-width="0.18" textLength="36.1" lengthAdjust="spacingAndGlyphs">151-49</text>
<text x="533.7" y="918.5" font-size="13.8" fill="#1414f0" stroke="#1414f0" stroke-width="0.18" textLength="36.6" lengthAdjust="spacingAndGlyphs">151-50</text>
<text x="602.5" y="918.1" font-size="13.8" fill="#1a1a1a" stroke="#1a1a1a" stroke-width="0.18" textLength="183.1" lengthAdjust="spacingAndGlyphs">(continues on 10-24, 10-26, 10-27)</text>
<text x="679.7" y="110.7" font-size="13.8" fill="#1a1a1a" stroke="#1a1a1a" stroke-width="0.18" textLength="35.3" lengthAdjust="spacingAndGlyphs">GD477</text>
<text x="731.4" y="110.7" font-size="13.8" fill="#1a1a1a" stroke="#1a1a1a" stroke-width="0.18" textLength="34.4" lengthAdjust="spacingAndGlyphs">BU-BN</text>
<text x="679.7" y="179.5" font-size="13.8" fill="#1a1a1a" stroke="#1a1a1a" stroke-width="0.18" textLength="35.3" lengthAdjust="spacingAndGlyphs">GD477</text>
<text x="731.4" y="179.5" font-size="13.8" fill="#1a1a1a" stroke="#1a1a1a" stroke-width="0.18" textLength="14.7" lengthAdjust="spacingAndGlyphs">BU</text>
<text x="679.7" y="254.5" font-size="13.8" fill="#1a1a1a" stroke="#1a1a1a" stroke-width="0.18" textLength="35.3" lengthAdjust="spacingAndGlyphs">GD477</text>
<text x="731.4" y="254.5" font-size="13.8" fill="#1a1a1a" stroke="#1a1a1a" stroke-width="0.18" textLength="34.4" lengthAdjust="spacingAndGlyphs">BU-BN</text>
<text x="679.7" y="330.7" font-size="13.8" fill="#1a1a1a" stroke="#1a1a1a" stroke-width="0.18" textLength="35.3" lengthAdjust="spacingAndGlyphs">GD477</text>
<text x="731.4" y="330.7" font-size="13.8" fill="#1a1a1a" stroke="#1a1a1a" stroke-width="0.18" textLength="34.4" lengthAdjust="spacingAndGlyphs">BU-BN</text>
<text x="701.5" y="466.4" font-size="13.8" fill="#1a1a1a" stroke="#1a1a1a" stroke-width="0.18" textLength="35.9" lengthAdjust="spacingAndGlyphs">GD477</text>
<text x="753.1" y="466.4" font-size="13.8" fill="#1a1a1a" stroke="#1a1a1a" stroke-width="0.18" textLength="33.7" lengthAdjust="spacingAndGlyphs">BU-GY</text>
<text x="701.5" y="540.0" font-size="13.8" fill="#1a1a1a" stroke="#1a1a1a" stroke-width="0.18" textLength="35.9" lengthAdjust="spacingAndGlyphs">GD477</text>
<text x="751.1" y="540.0" font-size="13.8" fill="#1a1a1a" stroke="#1a1a1a" stroke-width="0.18" textLength="33.3" lengthAdjust="spacingAndGlyphs">BU-GY</text>
<text x="746.4" y="632.5" font-size="13.8" fill="#1a1a1a" stroke="#1a1a1a" stroke-width="0.18" textLength="35.0" lengthAdjust="spacingAndGlyphs">GD477</text>
<text x="795.5" y="632.5" font-size="13.8" fill="#1a1a1a" stroke="#1a1a1a" stroke-width="0.18" textLength="14.7" lengthAdjust="spacingAndGlyphs">BU</text>
<text x="746.4" y="665.1" font-size="13.8" fill="#1a1a1a" stroke="#1a1a1a" stroke-width="0.18" textLength="35.0" lengthAdjust="spacingAndGlyphs">GD477</text>
<text x="795.5" y="665.1" font-size="13.8" fill="#1a1a1a" stroke="#1a1a1a" stroke-width="0.18" textLength="35.9" lengthAdjust="spacingAndGlyphs">BU-OG</text>
<text x="746.4" y="698.9" font-size="13.8" fill="#1a1a1a" stroke="#1a1a1a" stroke-width="0.18" textLength="35.0" lengthAdjust="spacingAndGlyphs">GD477</text>
<text x="795.5" y="698.9" font-size="13.8" fill="#1a1a1a" stroke="#1a1a1a" stroke-width="0.18" textLength="14.7" lengthAdjust="spacingAndGlyphs">BU</text>
<text x="746.4" y="782.9" font-size="13.8" fill="#1a1a1a" stroke="#1a1a1a" stroke-width="0.18" textLength="35.0" lengthAdjust="spacingAndGlyphs">GD477</text>
<text x="795.5" y="782.9" font-size="13.8" fill="#1a1a1a" stroke="#1a1a1a" stroke-width="0.18" textLength="34.9" lengthAdjust="spacingAndGlyphs">BU-GN</text>
<text x="746.4" y="815.9" font-size="13.8" fill="#1a1a1a" stroke="#1a1a1a" stroke-width="0.18" textLength="35.0" lengthAdjust="spacingAndGlyphs">GD477</text>
<text x="795.5" y="815.9" font-size="13.8" fill="#1a1a1a" stroke="#1a1a1a" stroke-width="0.18" textLength="14.7" lengthAdjust="spacingAndGlyphs">BU</text>
<text x="746.4" y="848.4" font-size="13.8" fill="#1a1a1a" stroke="#1a1a1a" stroke-width="0.18" textLength="35.0" lengthAdjust="spacingAndGlyphs">GD477</text>
<text x="795.5" y="848.4" font-size="13.8" fill="#1a1a1a" stroke="#1a1a1a" stroke-width="0.18" textLength="14.7" lengthAdjust="spacingAndGlyphs">BU</text>
<path d="M909.5,638.6 L920,627.6 H953.3 V649.6 H920 Z" fill="#f0f0f0" stroke="#262626" stroke-width="1.5" stroke-linejoin="miter"/>
<path d="M898.5,638.6 H909.5" stroke="#111" stroke-width="1.3" fill="none"/>
<text x="925.8" y="642.8" font-size="13.8" fill="#1a1a1a" stroke="#1a1a1a" stroke-width="0.18" textLength="16.8" lengthAdjust="spacingAndGlyphs">DD</text>
<text x="970.8" y="642.8" font-size="13.8" fill="#1414f0" stroke="#1414f0" stroke-width="0.18" textLength="29.9" lengthAdjust="spacingAndGlyphs">10-27</text>
<path d="M909.5,671.2 L920,660.2 H953.3 V682.2 H920 Z" fill="#f0f0f0" stroke="#262626" stroke-width="1.5" stroke-linejoin="miter"/>
<path d="M898.5,671.2 H909.5" stroke="#111" stroke-width="1.3" fill="none"/>
<text x="925.8" y="675.4" font-size="13.8" fill="#1a1a1a" stroke="#1a1a1a" stroke-width="0.18" textLength="13.8" lengthAdjust="spacingAndGlyphs">EE</text>
<text x="970.8" y="675.4" font-size="13.8" fill="#1414f0" stroke="#1414f0" stroke-width="0.18" textLength="29.9" lengthAdjust="spacingAndGlyphs">10-27</text>
<path d="M909.5,705 L920,694 H953.3 V716 H920 Z" fill="#f0f0f0" stroke="#262626" stroke-width="1.5" stroke-linejoin="miter"/>
<path d="M898.5,705 H909.5" stroke="#111" stroke-width="1.3" fill="none"/>
<text x="925.8" y="709.2" font-size="13.8" fill="#1a1a1a" stroke="#1a1a1a" stroke-width="0.18" textLength="12.6" lengthAdjust="spacingAndGlyphs">FF</text>
<text x="970.8" y="709.2" font-size="13.8" fill="#1414f0" stroke="#1414f0" stroke-width="0.18" textLength="29.9" lengthAdjust="spacingAndGlyphs">10-27</text>
<path d="M909.5,789 L920,778 H953.3 V800 H920 Z" fill="#f0f0f0" stroke="#262626" stroke-width="1.5" stroke-linejoin="miter"/>
<path d="M898.5,789 H909.5" stroke="#111" stroke-width="1.3" fill="none"/>
<text x="925.8" y="793.2" font-size="13.8" fill="#1a1a1a" stroke="#1a1a1a" stroke-width="0.18" textLength="16.8" lengthAdjust="spacingAndGlyphs">GG</text>
<text x="970.8" y="793.2" font-size="13.8" fill="#1414f0" stroke="#1414f0" stroke-width="0.18" textLength="29.9" lengthAdjust="spacingAndGlyphs">10-27</text>
<path d="M909.5,822 L920,811 H953.3 V833 H920 Z" fill="#f0f0f0" stroke="#262626" stroke-width="1.5" stroke-linejoin="miter"/>
<path d="M898.5,822 H909.5" stroke="#111" stroke-width="1.3" fill="none"/>
<text x="925.8" y="826.2" font-size="13.8" fill="#1a1a1a" stroke="#1a1a1a" stroke-width="0.18" textLength="15.9" lengthAdjust="spacingAndGlyphs">HH</text>
<text x="970.8" y="826.2" font-size="13.8" fill="#1414f0" stroke="#1414f0" stroke-width="0.18" textLength="29.9" lengthAdjust="spacingAndGlyphs">10-27</text>
<path d="M909.5,854.5 L920,843.5 H953.3 V865.5 H920 Z" fill="#f0f0f0" stroke="#262626" stroke-width="1.5" stroke-linejoin="miter"/>
<path d="M898.5,854.5 H909.5" stroke="#111" stroke-width="1.3" fill="none"/>
<text x="925.8" y="858.7" font-size="13.8" fill="#1a1a1a" stroke="#1a1a1a" stroke-width="0.18" textLength="11.4" lengthAdjust="spacingAndGlyphs">JJ</text>
<text x="970.8" y="858.7" font-size="13.8" fill="#1414f0" stroke="#1414f0" stroke-width="0.18" textLength="29.9" lengthAdjust="spacingAndGlyphs">10-27</text>
<path d="M1069.5,611.5 C1078,660 1077,705 1071.5,737 L1075.5,742 L1071.5,747 C1077,779 1078,824 1069.5,876" stroke="#111" stroke-width="1.3" fill="none"/>
<path d="M1069.5,611.5 C1073.5,660 1073.5,705 1070.8,737 M1070.8,747 C1073.5,779 1073.5,824 1069.5,876" stroke="#111" stroke-width="0.9" fill="none"/>
<text x="1090.2" y="746.6" font-size="13.8" fill="#1a1a1a" stroke="#1a1a1a" stroke-width="0.18" textLength="54.2" lengthAdjust="spacingAndGlyphs">GROUNDS</text>
</svg></body></html>
